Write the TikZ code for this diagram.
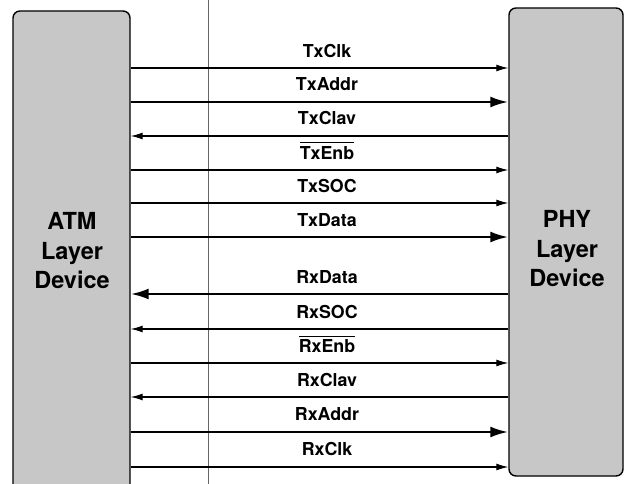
\documentclass[tikz,border=0pt]{standalone}
\usepackage{fontspec}
\setmainfont{TeX Gyre Heros}
\usetikzlibrary{arrows.meta}
\newcommand{\sigbar}[1]{\vbox{\hrule height 0.8pt\kern 3.2pt\hbox{#1}}}
\tikzset{
  dev/.style={draw=black, line width=1.4pt, rounded corners=7pt, fill=black!22, inner sep=0pt},
  devtxt/.style={font=\fontsize{23.5}{29.5}\selectfont\bfseries, align=center, inner sep=0pt},
  sig/.style={font=\fontsize{17.8}{19}\selectfont\bfseries, inner sep=0pt, anchor=base},
  thin/.style={line width=1.1pt, -{Latex[length=12pt,width=7pt]}},
  thick/.style={line width=2.6pt, -{Latex[length=18pt,width=11pt]}},
  grid/.style={draw=black!60, line width=0.6pt}
}
\begin{document}
\begin{tikzpicture}[x=1pt,y=-1pt]
\clip (0,0) rectangle (625,484);
\fill[white] (0,0) rectangle (625,484);
% devices
\node[dev, minimum width=117pt, minimum height=484pt] (atm) at (71.5,253) {};
\node[dev, minimum width=114pt, minimum height=468pt] (phy) at (566,242) {};
\node[devtxt] (atmtxt) at (72,251) {ATM\\Layer\\Device};
\node[devtxt] (phytxt) at (567,249) {PHY\\Layer\\Device};
% thin vertical rule
\coordinate (gtop) at (208.5,0);
\coordinate (gbot) at (208.5,484);
\draw[grid] (gtop) -- (gbot);
% signal rows
\foreach \n/\y in {txclk/68, txaddr/102, txclav/136, txenb/170, txsoc/203, txdata/237,
                   rxdata/294, rxsoc/329, rxenb/363, rxclav/397, rxaddr/432, rxclk/467}{
  \coordinate (\n) at (320,\y);
}
% labels
\node[sig] (ltxclk)  at (327,57.3)  {TxClk};
\node[sig] (ltxaddr) at (327,90.7)  {TxAddr};
\node[sig] (ltxclav) at (327,125) {TxClav};
\node[sig] (ltxenb)  at (327,159.3) {\sigbar{TxEnb}};
\node[sig] (ltxsoc)  at (327,192.7) {TxSOC};
\node[sig] (ltxdata) at (327,226.7) {TxData};
\node[sig] (lrxdata) at (327,284) {RxData};
\node[sig] (lrxsoc)  at (327,318.3) {RxSOC};
\node[sig] (lrxenb)  at (327,352.7) {\sigbar{RxEnb}};
\node[sig] (lrxclav) at (327,386) {RxClav};
\node[sig] (lrxaddr) at (327,420.7) {RxAddr};
\node[sig] (lrxclk)  at (327,455) {RxClk};
% connectors
\draw[thin]  (atm.east |- txclk)  -- (phy.west |- txclk);
\draw[thick] (atm.east |- txaddr) -- (phy.west |- txaddr);
\draw[thin]  (phy.west |- txclav) -- (atm.east |- txclav);
\draw[thin]  (atm.east |- txenb)  -- (phy.west |- txenb);
\draw[thin]  (atm.east |- txsoc)  -- (phy.west |- txsoc);
\draw[thick] (atm.east |- txdata) -- (phy.west |- txdata);
\draw[thick] (phy.west |- rxdata) -- (atm.east |- rxdata);
\draw[thin]  (phy.west |- rxsoc)  -- (atm.east |- rxsoc);
\draw[thin]  (atm.east |- rxenb)  -- (phy.west |- rxenb);
\draw[thin]  (phy.west |- rxclav) -- (atm.east |- rxclav);
\draw[thick] (atm.east |- rxaddr) -- (phy.west |- rxaddr);
\draw[thin]  (atm.east |- rxclk)  -- (phy.west |- rxclk);
\end{tikzpicture}
\end{document}
